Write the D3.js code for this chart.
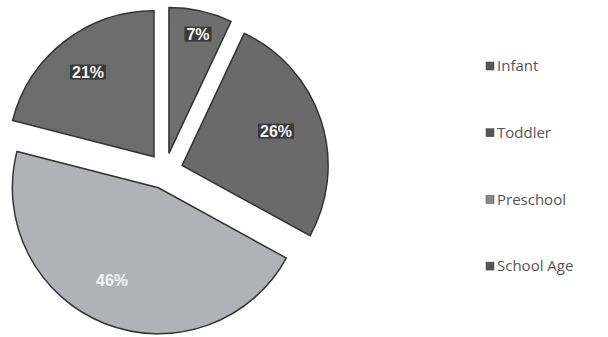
<!DOCTYPE html>
<html><head><meta charset="utf-8">
<script src="https://cdn.jsdelivr.net/npm/d3@7"></script>
<style>body{margin:0;background:#fff}</style>
</head><body>
<svg id="c" width="608" height="337"></svg>
<script>
const categories = ["Infant", "Toddler", "Preschool", "School Age"];
const values = [7, 26, 46, 21];
const colors = ["#6e6e6e", "#6a6a6a", "#b0b2b8", "#6c6c6c"];
const labelPos = [[198,34],[276,131],[112,280],[88,72]];

const svg = d3.select("#c");
const cx = 165, cy = 171, r = 146, off = 18;
const pie = d3.pie().sort(null).value(d => d)(values);
const arc = d3.arc().innerRadius(0).outerRadius(r);
const g = svg.append("g").attr("transform", `translate(${cx},${cy})`);
pie.forEach((p, i) => {
  const a = (p.startAngle + p.endAngle) / 2;
  const dx = Math.sin(a) * off, dy = -Math.cos(a) * off;
  g.append("path").attr("d", arc(p))
    .attr("transform", `translate(${dx},${dy})`)
    .attr("fill", colors[i]).attr("stroke", "#333").attr("stroke-width", 1.5);
});
pie.forEach((p, i) => {
  const [lx, ly] = labelPos[i];
  const t = svg.append("text").attr("x", lx).attr("y", ly).attr("dy", "0.35em")
    .attr("text-anchor", "middle")
    .attr("font-family", "Liberation Sans, Arial, sans-serif")
    .attr("font-weight", "bold").attr("font-size", 16)
    .attr("fill", "#f4f4f4")
    .text(values[i] + "%");
  if (i !== 2) {
    const bb = t.node().getBBox();
    svg.insert("rect", "text").attr("x", bb.x - 2).attr("y", bb.y + 1)
      .attr("width", bb.width + 4).attr("height", bb.height - 2).attr("fill", "#3a3a3a");
  }
});
const ly0 = 66, lstep = 66.7;
const leg = svg.append("g");
categories.forEach((c, i) => {
  const y = ly0 + i * lstep;
  leg.append("rect").attr("x", 486).attr("y", y - 4).attr("width", 8).attr("height", 8)
    .attr("fill", i === 2 ? "#8a8a8a" : "#555").attr("stroke", "#444").attr("stroke-width", 0.5);
  leg.append("text").attr("x", 497).attr("y", y).attr("dy", "0.35em")
    .attr("font-family", "Open Sans, sans-serif").attr("font-size", 15)
    .attr("fill", "#555").text(c);
});
</script>
</body></html>
